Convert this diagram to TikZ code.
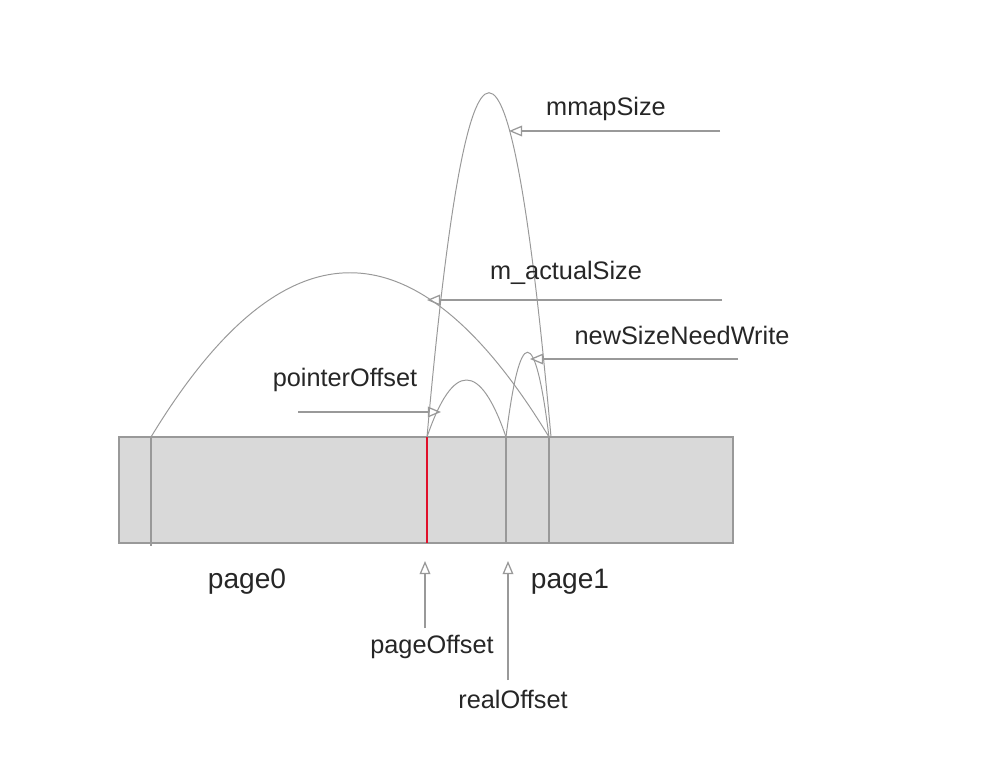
\documentclass[tikz,border=0pt]{standalone}
\usepackage{fontspec}
\setmainfont{Liberation Sans}
\usetikzlibrary{arrows.meta}
\definecolor{lineGray}{HTML}{999999}
\definecolor{memFill}{HTML}{D9D9D9}
\definecolor{offRed}{HTML}{E0102A}
\begin{document}
\begin{tikzpicture}[
    x=0.025cm, y=-0.025cm,
    mem/.style={rectangle, draw=lineGray, fill=memFill, line width=0.9pt, minimum width=15.35cm, minimum height=2.65cm, inner sep=0pt},
    divider/.style={draw=lineGray, line width=0.9pt},
    span/.style={draw=lineGray, line width=0.7pt},
    pointer/.style={-{Triangle[open, length=0.33cm, width=0.27cm]}, draw=lineGray, line width=0.9pt},
    label/.style={font=\fontsize{18}{21}\selectfont, text=black!85, inner sep=1pt},
    pagelabel/.style={font=\fontsize{20}{24}\selectfont, text=black!85, inner sep=1pt}
]
    \useasboundingbox (0,0) rectangle (994,762);

    % memory block
    \node[mem] (mem) at (426,490) {};
    \coordinate (p0top) at (151,437);
    \coordinate (p0bot) at (151,546);
    \coordinate (pgtop) at (427,437);
    \coordinate (pgbot) at (427,543);
    \coordinate (rltop) at (506,437);
    \coordinate (rlbot) at (506,543);
    \coordinate (endtop) at (549,437);
    \coordinate (endbot) at (549,543);
    \coordinate (mmtop) at (551,437);

    \draw[divider] (p0top) -- (p0bot);
    \draw[draw=offRed, line width=0.9pt] (pgtop) -- (pgbot);
    \draw[divider] (rltop) -- (rlbot);
    \draw[divider] (endtop) -- (endbot);

    % size spans
    \draw[span] (p0top) .. controls (284,218) and (416,218) .. (endtop);
    \draw[span] (pgtop) .. controls (468,-22) and (510,-22) .. (mmtop);
    \draw[span] (pgtop) .. controls (453,361) and (480,361) .. (rltop);
    \draw[span] (rltop) .. controls (520,324) and (535,324) .. (endtop);

    % labels
    \node[label] (mmapSize) at (606,109) {mmapSize};
    \node[label] (actualSize) at (566,273) {m\_actualSize};
    \node[label] (newSize) at (682,335) {newSizeNeedWrite};
    \node[label] (pointerOffset) at (345,380) {pointerOffset};
    \node[label] (pageOffset) at (432,647) {pageOffset};
    \node[label] (realOffset) at (513,699) {realOffset};
    \node[pagelabel] (page0) at (247,582) {page0};
    \node[pagelabel] (page1) at (570,582) {page1};

    % pointers
    \coordinate (mmFrom) at (720,131);
    \coordinate (mmTo) at (509,131);
    \coordinate (acFrom) at (722,300);
    \coordinate (acTo) at (427,300);
    \coordinate (nsFrom) at (738,359);
    \coordinate (nsTo) at (530,359);
    \coordinate (poFrom) at (298,412);
    \coordinate (poTo) at (441,412);
    \coordinate (pgFrom) at (425,628);
    \coordinate (pgTo) at (425,561);
    \coordinate (rlFrom) at (508,680);
    \coordinate (rlTo) at (508,561);

    \draw[pointer] (mmFrom) -- (mmTo);
    \draw[pointer] (acFrom) -- (acTo);
    \draw[pointer] (nsFrom) -- (nsTo);
    \draw[pointer] (poFrom) -- (poTo);
    \draw[pointer] (pgFrom) -- (pgTo);
    \draw[pointer] (rlFrom) -- (rlTo);
\end{tikzpicture}
\end{document}
